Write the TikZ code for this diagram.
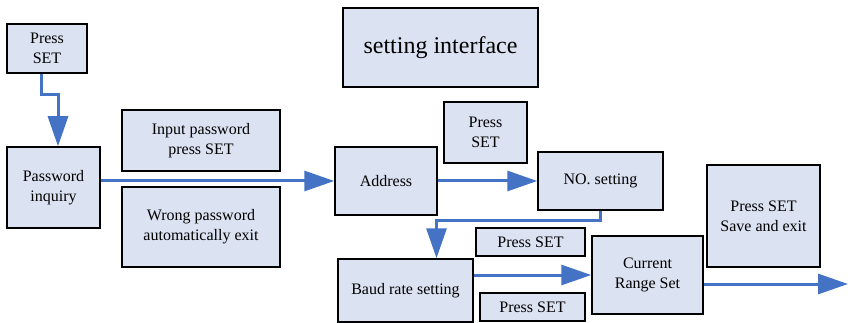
\documentclass[tikz,border=0pt]{standalone}
\usepackage{fontspec}
\setmainfont{Liberation Serif}
\usetikzlibrary{arrows.meta}
\definecolor{boxfill}{RGB}{219,226,241}
\definecolor{flowblue}{RGB}{68,114,196}
\begin{document}
\begin{tikzpicture}[x=1pt,y=-1pt,
  box/.style={draw=black,line width=1.5pt,fill=boxfill,inner sep=0pt,
    align=center,font=\fontsize{16}{20}\selectfont},
  flow/.style={draw=flowblue,line width=3pt,
    -{Triangle[length=30pt,width=20pt]}}]
\useasboundingbox (0,0) rectangle (848,323);
% boxes
\node[box,minimum width=80pt,minimum height=49pt] (pset1) at (47,48.5) {Press\\SET};
\node[box,minimum width=93pt,minimum height=81pt] (pwd) at (53.5,187.5) {Password\\inquiry};
\node[box,minimum width=158pt,minimum height=61pt] (inpw) at (201,140.5) {Input password\\press SET};
\node[box,minimum width=158pt,minimum height=80pt] (wrong) at (201,227) {Wrong password\\automatically exit};
\node[box,minimum width=195pt,minimum height=79pt,font=\fontsize{24}{28}\selectfont] (title) at (440.5,47.5) {setting interface};
\node[box,minimum width=102pt,minimum height=68pt] (addr) at (386,181) {Address};
\node[box,minimum width=83pt,minimum height=61pt] (pset2) at (485.5,132.5) {Press\\SET};
\node[box,minimum width=125pt,minimum height=58pt] (noset) at (600.5,181) {NO. setting};
\node[box,minimum width=109pt,minimum height=28pt] (pset3) at (530.5,242) {Press SET};
\node[box,minimum width=135pt,minimum height=63pt] (baud) at (405.5,290.5) {Baud rate setting};
\node[box,minimum width=105pt,minimum height=28pt] (pset4) at (532.5,307) {Press SET};
\node[box,minimum width=111pt,minimum height=78pt] (curr) at (647.5,275) {Current\\Range Set};
\node[box,minimum width=113pt,minimum height=102pt] (save) at (763.5,216) {Press SET\\Save and exit};
\coordinate (exitpt) at (848,284);
% connectors
\draw[flow] ([xshift=-6pt]pset1.south) -- ++(0,21) -| ([xshift=4.5pt]pwd.north);
\draw[flow] (addr.west -| pwd.east) -- (addr.west);
\draw[flow] (addr.east) -- (noset.west);
\draw[flow] (noset.south) -- ++(0,10) -| ([xshift=31pt]baud.north);
\draw[flow] (curr.west -| baud.east) -- (curr.west);
\draw[flow] ([yshift=-9pt]curr.east) -- (exitpt);
\end{tikzpicture}
\end{document}
